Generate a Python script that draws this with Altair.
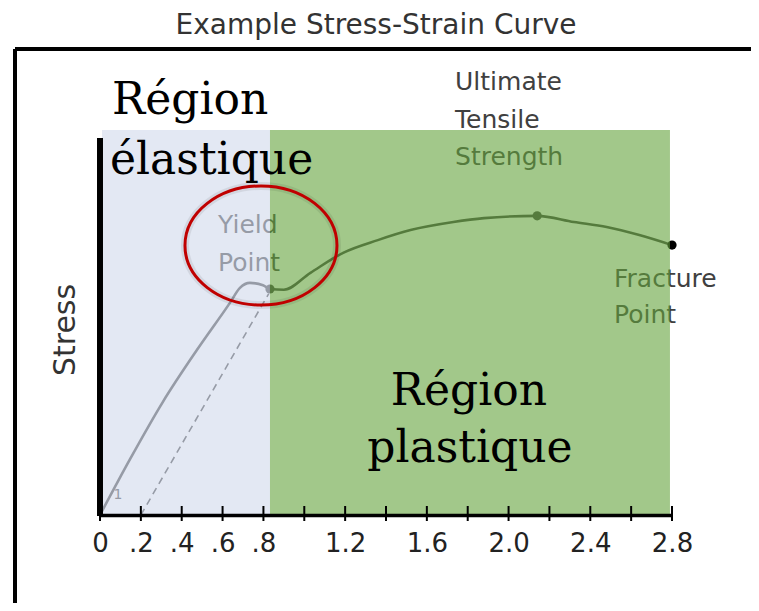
import altair as alt
import pandas as pd

# ---------------- data ----------------
elastic_strain = [0.0, 0.147, 0.308, 0.475, 0.636, 0.685, 0.734, 0.798, 0.832]
elastic_stress = [0.0, 14.5, 29.4, 42.9, 55.1, 59.0, 60.3, 59.7, 58.7]
plastic_strain = [0.90, 1.03, 1.19, 1.36, 1.52, 1.73, 1.88, 2.14, 2.32, 2.48, 2.64, 2.80]
plastic_stress = [58.5, 62.9, 68.1, 71.4, 74.0, 76.1, 77.1, 77.7, 76.1, 74.8, 72.7, 70.1]
offset_strain = [0.2, 0.826]
offset_stress = [0.0, 57.5]

point_names = ["Yield", "UTS", "Fracture"]
point_strain = [0.832, 2.14, 2.80]
point_stress = [58.7, 77.7, 70.1]

region_names = ["Région élastique", "Région plastique"]
region_start = [0.01, 0.832]
region_end = [0.832, 2.79]
region_colors = ["#d0d9eb", "#64a33c"]

tick_values = [0, 0.2, 0.4, 0.6, 0.8, 1.0, 1.2, 1.4, 1.6, 1.8, 2.0, 2.2, 2.4, 2.6, 2.8]
tick_labels = ["0", ".2", ".4", ".6", ".8", "", "1.2", "", "1.6", "", "2.0", "", "2.4", "", "2.8"]

gray_text = ["Yield", "Point", "Ultimate", "Tensile", "Strength", "Fracture", "Point"]
gray_x = [0.578, 0.578, 1.738, 1.738, 1.738, 2.516, 2.516]
gray_y = [75.4, 65.5, 112.5, 102.6, 93.0, 61.2, 51.9]

serif_text = ["Région", "élastique", "Région", "plastique"]
serif_x = [0.059, 0.049, 1.806, 1.811]
serif_y = [107.5, 92.0, 32.0, 17.2]
serif_align = ["left", "left", "center", "center"]

title_text = "Example Stress-Strain Curve"
y_title = "Stress"

# ---------------- frames ----------------
curve = pd.DataFrame({
    "strain": elastic_strain + plastic_strain,
    "stress": elastic_stress + plastic_stress,
})
offset = pd.DataFrame({"strain": offset_strain, "stress": offset_stress})
pts = pd.DataFrame({"name": point_names, "strain": point_strain, "stress": point_stress})
regions = pd.DataFrame({"name": region_names, "x0": region_start, "x1": region_end,
                        "color": region_colors})
ticks = pd.DataFrame({"v": tick_values})
gtext = pd.DataFrame({"t": gray_text, "x": gray_x, "y": gray_y})
stext = pd.DataFrame({"t": serif_text, "x": serif_x, "y": serif_y, "a": serif_align})

label_expr = "".join(
    f"abs(datum.value - {v}) < 0.001 ? '{lab}' : " for v, lab in zip(tick_values, tick_labels)
) + "''"

xscale = alt.Scale(domain=[0, 2.8], nice=False, zero=False)
yscale = alt.Scale(domain=[0, 100], nice=False, zero=False)
X = lambda f: alt.X(f, type="quantitative", scale=xscale, title=None)
Y = lambda f: alt.Y(f, type="quantitative", scale=yscale, axis=None)

CURVE = "#404040"

# under-overlay layers
line = alt.Chart(curve).mark_line(color=CURVE, strokeWidth=2.6, interpolate="monotone").encode(
    x=X("strain"), y=Y("stress"))
dash = alt.Chart(offset).mark_line(color=CURVE, strokeWidth=1.6, strokeDash=[7, 5]).encode(
    x=X("strain"), y=Y("stress"))
dots = alt.Chart(pts).mark_circle(size=85, opacity=1).encode(
    x=X("strain"), y=Y("stress"),
    color=alt.Color("name:N", scale=alt.Scale(domain=point_names,
                                             range=["#404040", "#404040", "#000000"]), legend=None))
gray_labels = alt.Chart(gtext).mark_text(align="left", baseline="middle", font="DejaVu Sans",
                                         fontSize=25, color="#404040").encode(
    x=X("x"), y=Y("y"), text="t:N")
one = alt.Chart(pd.DataFrame({"t": ["1"], "x": [0.088], "y": [5.2]})).mark_text(
    align="center", baseline="middle", font="DejaVu Sans", fontSize=14, color="#404040").encode(
    x=X("x"), y=Y("y"), text="t:N")

# overlays
overlay = alt.Chart(regions).mark_rect(opacity=0.6).encode(
    x=X("x0"), x2="x1", y=alt.value(0), y2=alt.value(385),
    color=alt.Color("color:N", scale=None))

# x axis + crossing ticks
xaxis = alt.Chart(ticks).mark_rule(color="black", strokeWidth=2).encode(
    x=alt.X("v:Q", scale=xscale, title=None,
            axis=alt.Axis(values=tick_values, labelExpr=label_expr, ticks=False, grid=False,
                          domainColor="black", domainWidth=3.5, labelFont="DejaVu Sans",
                          labelFontSize=26, labelColor="#222", labelPadding=15,
                          labelOverlap=False, labelFlush=False, zindex=1)),
    y=alt.value(376), y2=alt.value(391))

yline = alt.Chart(ticks).mark_rule(color="black", strokeWidth=4.5).encode(
    x=alt.value(0), y=alt.value(8), y2=alt.value(386))

serif_left = alt.Chart(stext[stext.a == "left"]).mark_text(
    align="left", baseline="middle", font="DejaVu Serif", fontSize=44, color="black").encode(
    x=X("x"), y=Y("y"), text="t:N")
serif_center = alt.Chart(stext[stext.a == "center"]).mark_text(
    align="center", baseline="middle", font="DejaVu Serif", fontSize=44, color="black").encode(
    x=X("x"), y=Y("y"), text="t:N")

ell_path = "M -1 0 A 1 0.783 0 1 1 1 0 A 1 0.783 0 1 1 -1 0 Z"
ell_df = pd.DataFrame({"x": [0.788], "y": [70.0]})
ell_shadow = alt.Chart(ell_df).mark_point(shape=ell_path, size=152 * 152, filled=False,
                                          stroke="#000000", strokeWidth=8, opacity=0.07).encode(
    x=X("x"), y=Y("y"))
ellipse = alt.Chart(ell_df).mark_point(shape=ell_path, size=152 * 152, filled=False,
                                       stroke="#c00000", strokeWidth=3, opacity=1).encode(
    x=X("x"), y=Y("y"))

title = alt.Chart(pd.DataFrame({"t": [title_text]})).mark_text(
    align="center", baseline="middle", font="DejaVu Sans", fontSize=28, color="#333").encode(
    x=alt.value(276), y=alt.value(-104), text="t:N")
stress = alt.Chart(pd.DataFrame({"t": [y_title]})).mark_text(
    align="center", baseline="middle", font="DejaVu Sans", fontSize=30, color="#333", angle=270).encode(
    x=alt.value(-34), y=alt.value(200), text="t:N")

frame_top = alt.Chart(ticks).mark_rule(color="black", strokeWidth=3).encode(
    x=alt.value(-85), x2=alt.value(700), y=alt.value(-81))
frame_left = alt.Chart(ticks).mark_rule(color="black", strokeWidth=3).encode(
    x=alt.value(-85), y=alt.value(-81), y2=alt.value(520))

chart = alt.layer(
    gray_labels, one, line, dash, dots, overlay, xaxis, yline,
    serif_left, serif_center, ell_shadow, ellipse, title, stress, frame_top, frame_left
).properties(
    width=572, height=385,
    autosize=alt.AutoSizeParams(type="none"),
    padding={"left": 92, "top": 122, "right": 79, "bottom": 88},
).configure_view(stroke=None)

chart.save("out.html", embed_options={"renderer": "svg", "actions": False})
